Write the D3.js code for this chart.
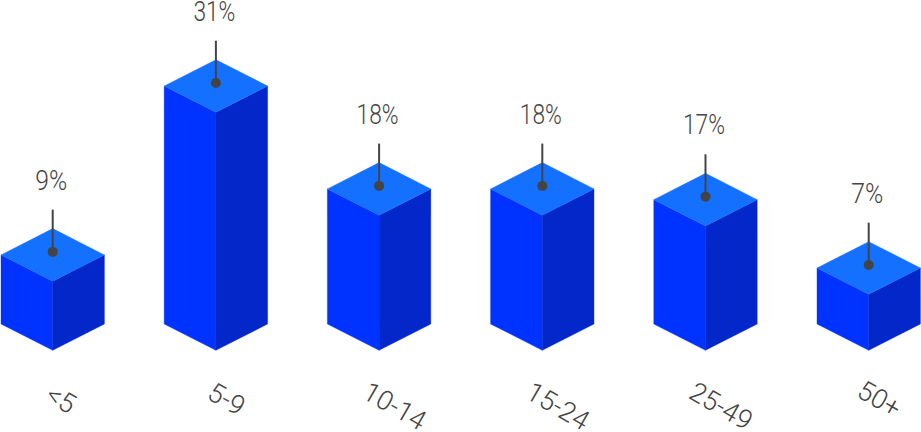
<!DOCTYPE html>
<html>
<head>
<meta charset="utf-8">
<script src="https://cdn.jsdelivr.net/npm/d3@7"></script>
<style>
    body { margin: 0; background: #fff; }
    svg { display: block; }
    text { font-family: Roboto, sans-serif; font-weight: 300; fill: #444; }
</style>
</head>
<body>
<div id="chart"></div>
<script>
// age groups and the share of each, bar heights
const categories = ["<5", "5-9", "10-14", "15-24", "25-49", "50+"];
const values = [9.0, 31, 17.6, 17.6, 16.2, 7.3];
const valueLabels = ["9%", "31%", "18%", "18%", "17%", "7%"];

const width = 921, height = 432;

const svg = d3.select("#chart").append("svg")
    .attr("width", width)
    .attr("height", height);

// x = centre of each block, h = height of the block sides
const x = d3.scalePoint().domain(categories).range([52.7, 868.7]);
const h = d3.scaleLinear().domain([0, 31]).range([0, 238]);

const halfW = 51.7;     // half width of a block
const slant = 26.3;     // vertical drop of the top face edges
const base = 324;       // y of the side corners at the bottom

const data = categories.map((c, i) => ({cat: c, value: values[i], label: valueLabels[i]}));

const bars = svg.selectAll(".bar")
    .data(data)
    .enter()
    .append("g")
    .attr("class", "bar")
    .attr("transform", d => `translate(${x(d.cat)}, 0)`);

// left side
bars.append("path")
    .attr("fill", "#0033ff")
    .attr("stroke", "#0033ff")
    .attr("stroke-width", 0.4)
    .attr("d", d => {
        const top = base - h(d.value);
        return d3.line()([[-halfW, top], [0, top + slant], [0, base + slant], [-halfW, base]]) + "Z";
    });

// right side
bars.append("path")
    .attr("fill", "#0327c8")
    .attr("stroke", "#0327c8")
    .attr("stroke-width", 0.4)
    .attr("d", d => {
        const top = base - h(d.value);
        return d3.line()([[halfW, top], [0, top + slant], [0, base + slant], [halfW, base]]) + "Z";
    });

// top face
bars.append("path")
    .attr("fill", "#1470ff")
    .attr("stroke", "#1470ff")
    .attr("stroke-width", 0.4)
    .attr("d", d => {
        const top = base - h(d.value);
        return d3.line()([[-halfW, top], [0, top - slant], [halfW, top], [0, top + slant]]) + "Z";
    });

// stem and dot
bars.append("line")
    .attr("stroke", "#444")
    .attr("stroke-width", 2)
    .attr("y1", d => base - h(d.value) - slant - 19)
    .attr("y2", d => base - h(d.value) - 3);

bars.append("circle")
    .attr("fill", "#444")
    .attr("r", 5)
    .attr("cy", d => base - h(d.value) - 3);

// value labels, squeezed to the narrow look of the original
bars.append("text")
    .attr("text-anchor", "middle")
    .attr("font-size", 28)
    .attr("textLength", d => 12 + d.label.length * 10)
    .attr("lengthAdjust", "spacingAndGlyphs")
    .attr("x", -1.5)
    .attr("y", d => base - h(d.value) - slant - 39)
    .text(d => d.label);

// category labels, rotated
bars.append("text")
    .attr("text-anchor", "middle")
    .attr("dominant-baseline", "middle")
    .attr("font-size", 27)
    .attr("transform", d => {
        const n = d.cat.length;
        return `translate(${n > 3 ? 14.5 : 3 + 2.2 * n}, ${n > 3 ? 408 : 401}) rotate(30)`;
    })
    .text(d => d.cat);
</script>
</body>
</html>
